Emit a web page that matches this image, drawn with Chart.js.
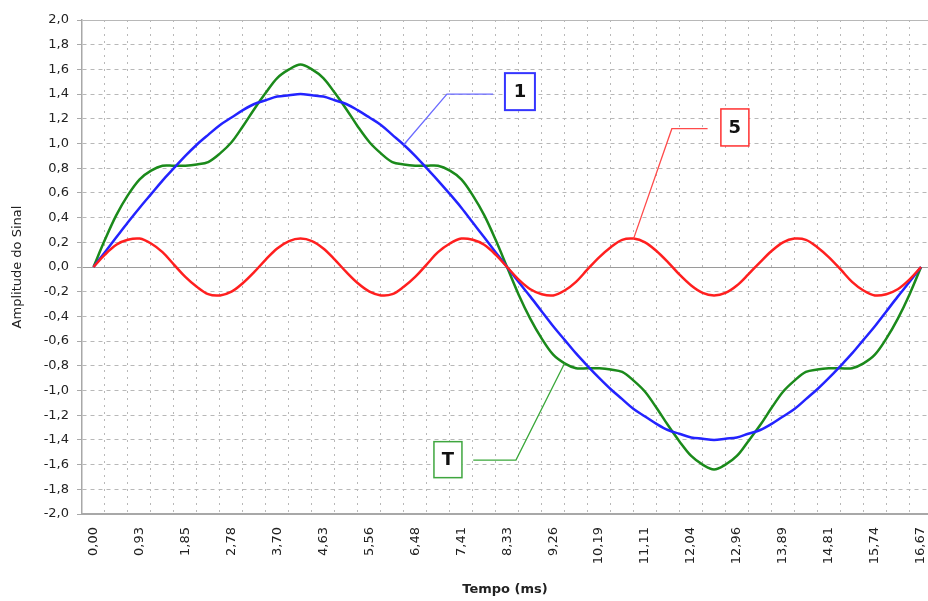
<!DOCTYPE html>
<html>
<head>
<meta charset="utf-8">
<script src="https://cdn.jsdelivr.net/npm/chart.js@4/dist/chart.umd.min.js"></script>
<style>
  html, body { margin: 0; padding: 0; background: #fff; }
  #wrap { width: 928px; height: 601px; }
</style>
</head>
<body>
<div id="wrap"><canvas id="signalChart" width="928" height="601"></canvas></div>
<script>
// time of each sample (ms)
const timeMs = [
  0.00, 0.23, 0.46, 0.69, 0.93, 1.16, 1.39, 1.62, 1.85, 2.08, 2.31, 2.55, 2.78,
  3.01, 3.24, 3.47, 3.70, 3.94, 4.17, 4.40, 4.63, 4.86, 5.09, 5.32, 5.56, 5.79,
  6.02, 6.25, 6.48, 6.71, 6.94, 7.18, 7.41, 7.64, 7.87, 8.10, 8.33, 8.56, 8.80,
  9.03, 9.26, 9.49, 9.72, 9.95, 10.19, 10.42, 10.65, 10.88, 11.11, 11.34, 11.57,
  11.80, 12.04, 12.27, 12.50, 12.73, 12.96, 13.19, 13.43, 13.66, 13.89, 14.12,
  14.35, 14.58, 14.81, 15.05, 15.28, 15.51, 15.74, 15.97, 16.20, 16.44, 16.67
];

// "1" - fundamental
const fundamental = [
  0.00, 0.12, 0.24, 0.36, 0.48, 0.59, 0.70, 0.80, 0.90, 0.99, 1.07, 1.15, 1.21, 1.27, 1.32, 1.35, 1.38, 1.39, 1.40,
  1.39, 1.38, 1.35, 1.32, 1.27, 1.21, 1.15, 1.07, 0.99, 0.90, 0.80, 0.70, 0.59, 0.48, 0.36, 0.24, 0.12, 0.00,
  -0.12, -0.24, -0.36, -0.48, -0.59, -0.70, -0.80, -0.90, -0.99, -1.07, -1.15, -1.21, -1.27, -1.32, -1.35, -1.38, -1.39, -1.40,
  -1.39, -1.38, -1.35, -1.32, -1.27, -1.21, -1.15, -1.07, -0.99, -0.90, -0.80, -0.70, -0.59, -0.48, -0.36, -0.24, -0.12, 0.00
];

// "5" - 5th harmonic
const harmonic5 = [
  0.00, 0.10, 0.18, 0.22, 0.23, 0.19, 0.12, 0.02, -0.08, -0.16, -0.22, -0.23, -0.20, -0.13, -0.04, 0.06, 0.15, 0.21, 0.23,
  0.21, 0.15, 0.06, -0.04, -0.13, -0.20, -0.23, -0.22, -0.16, -0.08, 0.02, 0.12, 0.19, 0.23, 0.22, 0.18, 0.10, 0.00,
  -0.10, -0.18, -0.22, -0.23, -0.19, -0.12, -0.02, 0.08, 0.16, 0.22, 0.23, 0.20, 0.13, 0.04, -0.06, -0.15, -0.21, -0.23,
  -0.21, -0.15, -0.06, 0.04, 0.13, 0.20, 0.23, 0.22, 0.16, 0.08, -0.02, -0.12, -0.19, -0.23, -0.22, -0.18, -0.10, 0.00
];

// "T" - total
const total = [
  0.00, 0.22, 0.42, 0.58, 0.71, 0.78, 0.82, 0.82, 0.82, 0.83, 0.85, 0.92, 1.01, 1.14, 1.28, 1.41, 1.53, 1.60, 1.64,
  1.60, 1.53, 1.41, 1.28, 1.14, 1.01, 0.92, 0.85, 0.83, 0.82, 0.82, 0.82, 0.78, 0.71, 0.58, 0.42, 0.22, 0.00,
  -0.22, -0.42, -0.58, -0.71, -0.78, -0.82, -0.82, -0.82, -0.83, -0.85, -0.92, -1.01, -1.14, -1.28, -1.41, -1.53, -1.60, -1.64,
  -1.60, -1.53, -1.41, -1.28, -1.14, -1.01, -0.92, -0.85, -0.83, -0.82, -0.82, -0.82, -0.78, -0.71, -0.58, -0.42, -0.22, 0.00
];

// labelled time ticks
const tickTimes = [0, 0.926, 1.852, 2.778, 3.704, 4.630, 5.556, 6.481, 7.407, 8.333,
  9.259, 10.185, 11.111, 12.037, 12.963, 13.889, 14.815, 15.741, 16.667];
const tickLabels = ['0,00', '0,93', '1,85', '2,78', '3,70', '4,63', '5,56', '6,48', '7,41', '8,33',
  '9,26', '10,19', '11,11', '12,04', '12,96', '13,89', '14,81', '15,74', '16,67'];

// vertical grid lines sit between samples, every half tick
const gridTimes = [];
for (let i = 0; i < 36; i++) gridTimes.push(0.2315 + i * 0.463);

const font = 'DejaVu Sans, Verdana, sans-serif';

function toPoints(values) {
  return values.map((v, i) => ({ x: timeMs[i], y: v }));
}

// callout boxes with leader lines (positions in data units)
const callouts = [
  { text: '1', data: fundamental, index: 27, elbow: [7.12, 1.40], end: [8.05, 1.40], box: [8.59, 1.42],
    w: 30, h: 37, border: '#3535ff', line: '#6b6bff', bw: 2 },
  { text: '5', data: harmonic5, index: 47, elbow: [11.65, 1.12], end: [12.37, 1.12], box: [12.92, 1.13],
    w: 28, h: 37, border: '#ff3030', line: '#ff4a4a', bw: 1.5 },
  { text: 'T', data: total, index: 41, elbow: [8.51, -1.564], end: [7.65, -1.564], box: [7.14, -1.56],
    w: 28, h: 36, border: '#3fa63f', line: '#3aa83a', bw: 1.5 }
];

const calloutPlugin = {
  id: 'callouts',
  afterDatasetsDraw(chart) {
    const ctx = chart.ctx;
    const xs = chart.scales.x, ys = chart.scales.y;
    callouts.forEach(c => {
      const ax = xs.getPixelForValue(timeMs[c.index]);
      const ay = ys.getPixelForValue(c.data[c.index]);
      const ex = xs.getPixelForValue(c.elbow[0]), ey = ys.getPixelForValue(c.elbow[1]);
      const nx = xs.getPixelForValue(c.end[0]), ny = ys.getPixelForValue(c.end[1]);
      const bx = xs.getPixelForValue(c.box[0]), by = ys.getPixelForValue(c.box[1]);
      ctx.save();
      ctx.strokeStyle = c.line;
      ctx.lineWidth = 1.3;
      ctx.beginPath();
      ctx.moveTo(ax, ay);
      ctx.lineTo(ex, ey);
      ctx.lineTo(nx, ny);
      ctx.stroke();
      ctx.fillStyle = '#fff';
      ctx.fillRect(bx - c.w / 2, by - c.h / 2, c.w, c.h);
      ctx.strokeStyle = c.border;
      ctx.lineWidth = c.bw;
      ctx.strokeRect(bx - c.w / 2, by - c.h / 2, c.w, c.h);
      ctx.fillStyle = '#111';
      ctx.font = 'bold 18px ' + font;
      ctx.textAlign = 'center';
      ctx.textBaseline = 'middle';
      ctx.fillText(c.text, bx, by + 1);
      ctx.restore();
    });
  }
};

const ctx = document.getElementById('signalChart').getContext('2d');
new Chart(ctx, {
  type: 'line',
  data: {
    datasets: [
      { label: '5', data: toPoints(harmonic5), borderColor: '#ff1f1f', borderWidth: 2.5 },
      { label: '1', data: toPoints(fundamental), borderColor: '#2323ff', borderWidth: 2.5 },
      { label: 'T', data: toPoints(total), borderColor: '#1b8a1b', borderWidth: 2.5 }
    ]
  },
  options: {
    responsive: false,
    animation: false,
    layout: { padding: { top: 20, right: 0, left: 0, bottom: 0 } },
    elements: {
      point: { radius: 0 },
      line: { tension: 0.35, fill: false }
    },
    plugins: {
      legend: { display: false },
      tooltip: { enabled: false }
    },
    scales: {
      x: {
        type: 'linear',
        min: -0.2315,
        max: 16.81,
        afterBuildTicks: scale => { scale.ticks = tickTimes.map(v => ({ value: v })); },
        afterFit: scale => { scale.height = 87; scale.paddingLeft = 0; scale.paddingRight = 0; },
        grid: { display: false, drawTicks: false },
        border: { display: true, color: '#a8a8a8', width: 2 },
        ticks: {
          autoSkip: false,
          minRotation: 90,
          maxRotation: 90,
          padding: 13,
          color: '#222',
          font: { family: font, size: 13 },
          callback: (v, i) => tickLabels[i]
        },
        title: {
          display: true,
          text: 'Tempo (ms)',
          color: '#222',
          font: { family: font, size: 13, weight: 'bold' },
          padding: { top: 0, bottom: 4 }
        }
      },
      xGrid: {
        type: 'linear',
        position: 'bottom',
        min: -0.2315,
        max: 16.81,
        afterBuildTicks: scale => { scale.ticks = gridTimes.map(v => ({ value: v })); },
        afterFit: scale => { scale.height = 0; scale.paddingLeft = 0; scale.paddingRight = 0; },
        ticks: { display: false },
        border: { display: false, dash: [2, 5] },
        grid: { color: '#b8b8b8', lineWidth: 1, drawTicks: false }
      },
      y: {
        min: -2,
        max: 2,
        afterFit: scale => { scale.width = 82; },
        ticks: {
          stepSize: 0.2,
          padding: 8,
          color: '#222',
          font: { family: font, size: 13 },
          callback: v => v.toFixed(1).replace('.', ',')
        },
        grid: {
          color: c => (c.tick && Math.abs(c.tick.value) < 1e-6) ? '#9a9a9a' : '#b8b8b8',
          lineWidth: 1,
          tickLength: 5,
          tickColor: '#a8a8a8'
        },
        border: {
          display: true,
          color: '#a8a8a8',
          width: 1.5,
          dash: c => (c.tick && Math.abs(c.tick.value) > 1e-6 && Math.abs(c.tick.value - 2) > 1e-6) ? [4, 4] : []
        },
        title: {
          display: true,
          text: 'Amplitude do Sinal',
          color: '#222',
          font: { family: font, size: 13 },
          padding: { top: 10, bottom: 0 }
        }
      }
    }
  },
  plugins: [calloutPlugin]
});
</script>
</body>
</html>
